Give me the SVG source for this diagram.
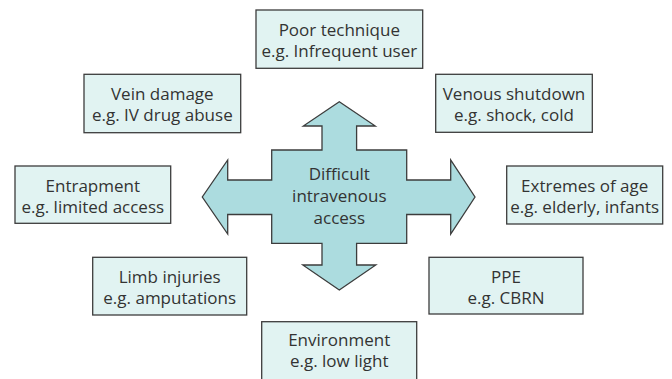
<svg xmlns="http://www.w3.org/2000/svg" width="672" height="379" viewBox="0 0 672 379">
<style>
.box{fill:#e1f3f2;stroke:#3c3c3c;stroke-width:1.3}
.cross{fill:#acdcdf;stroke:#3c3c3c;stroke-width:1.3;stroke-linejoin:miter}
text{font-family:"Open Sans","Liberation Sans",sans-serif;font-size:17px;fill:#333;text-anchor:middle}
</style>
<rect width="672" height="379" fill="#ffffff"/>
<g id="connectors">
<path class="cross" d="M339.3,101.7 L375.3,126 L356.6,126 L356.6,150 L406.7,150 L406.7,180 L450.7,180 L450.7,160 L475,197 L450.7,234 L450.7,214.5 L406.7,214.5 L406.7,243.3 L356.6,243.3 L356.6,265 L375.8,265 L339.3,290 L302.8,265 L322,265 L322,243.3 L271.7,243.3 L271.7,214.5 L227.7,214.5 L227.7,234 L202.3,197 L227.7,160 L227.7,180 L271.7,180 L271.7,150 L322,150 L322,126 L303.3,126 Z"/>
</g>
<g id="center">
<text x="339.3" y="180">Difficult</text>
<text x="339.3" y="202.3">intravenous</text>
<text x="339.3" y="224.3">access</text>
</g>
<g id="poor-technique">
<rect class="box" x="256" y="10" width="166.7" height="58.3"/>
<text x="339.3" y="36">Poor technique</text>
<text x="339.3" y="57">e.g. Infrequent user</text>
</g>
<g id="vein-damage">
<rect class="box" x="84" y="74.3" width="156.7" height="58.4"/>
<text x="162.3" y="100.3">Vein damage</text>
<text x="162.3" y="121.3">e.g. IV drug abuse</text>
</g>
<g id="venous-shutdown">
<rect class="box" x="435.7" y="74.3" width="156.6" height="58"/>
<text x="514" y="100.3">Venous shutdown</text>
<text x="514" y="121.3">e.g. shock, cold</text>
</g>
<g id="entrapment">
<rect class="box" x="15" y="166" width="155.7" height="57.3"/>
<text x="92.8" y="192">Entrapment</text>
<text x="92.8" y="213">e.g. limited access</text>
</g>
<g id="extremes-of-age">
<rect class="box" x="506.7" y="166" width="156" height="58"/>
<text x="584.7" y="192">Extremes of age</text>
<text x="584.7" y="213">e.g. elderly, infants</text>
</g>
<g id="limb-injuries">
<rect class="box" x="92.7" y="257.3" width="154" height="57.7"/>
<text x="169.7" y="283.3">Limb injuries</text>
<text x="169.7" y="304.3">e.g. amputations</text>
</g>
<g id="ppe">
<rect class="box" x="429" y="257.3" width="154" height="56.7"/>
<text x="506" y="283.3">PPE</text>
<text x="506" y="304.3">e.g. CBRN</text>
</g>
<g id="environment">
<rect class="box" x="261.7" y="321.7" width="155" height="70"/>
<text x="339.2" y="346">Environment</text>
<text x="339.2" y="367">e.g. low light</text>
</g>
</svg>
